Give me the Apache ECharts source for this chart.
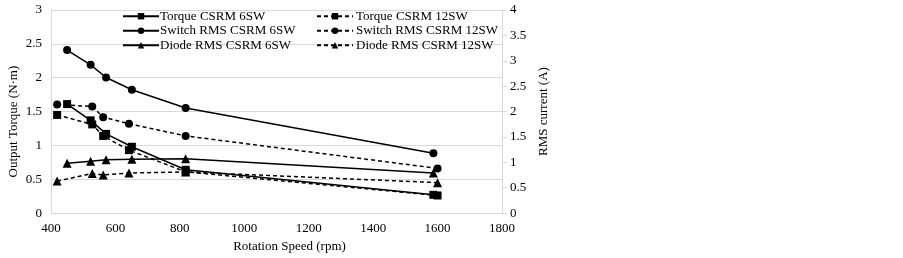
<!DOCTYPE html>
<html><head><meta charset="utf-8">
<script src="https://cdn.jsdelivr.net/npm/echarts@6/dist/echarts.min.js"></script>
<style>html,body{margin:0;padding:0;background:#fff}#c{width:903px;height:258px}</style>
</head><body><div id="c"></div>
<script>
var rpm6 = [450, 523, 571, 651, 818, 1587];
var rpm12 = [419, 528, 562, 642, 818, 1600];
var torque6 = [1.61, 1.37, 1.17, 0.98, 0.64, 0.27];
var torque12 = [1.45, 1.31, 1.14, 0.93, 0.61, 0.26];
var switch6 = [3.21, 2.92, 2.67, 2.43, 2.07, 1.18];
var switch12 = [2.14, 2.10, 1.89, 1.76, 1.52, 0.88];
var diode6 = [0.98, 1.02, 1.05, 1.06, 1.07, 0.79];
var diode12 = [0.63, 0.78, 0.75, 0.79, 0.81, 0.60];
var names6 = ['Torque CSRM 6SW', 'Switch RMS CSRM 6SW', 'Diode RMS CSRM 6SW'];
var names12 = ['Torque CSRM 12SW', 'Switch RMS CSRM 12SW', 'Diode RMS CSRM 12SW'];

function pairs(xs, ys){ return xs.map(function(x,i){ return [x, ys[i]]; }); }
var FONT = '"Liberation Serif", "DejaVu Serif", serif';
function mk(name, xs, ys, yIdx, dashed, sym, size){
  return {
    name: name, type: 'line', yAxisIndex: yIdx, data: pairs(xs, ys),
    symbol: sym, symbolSize: size, showSymbol: true,
    lineStyle: {color: '#000', width: 1.5, type: dashed ? [4,3] : 'solid'},
    itemStyle: {color: '#000'},
    animation: false
  };
}
var chart = echarts.init(document.getElementById('c'));
chart.setOption({
  backgroundColor: '#fff',
  animation: false,
  textStyle: {fontFamily: FONT, color: '#000'},
  grid: {left: 51, right: 401, top: 10, bottom: 41, containLabel: false},
  legend: [
    {data: names6, orient: 'vertical', left: 117, top: 7, itemWidth: 36, itemHeight: 8, itemGap: 0,
     padding: [2,5,2,5],
     textStyle: {fontFamily: FONT, fontSize: 13, color: '#000', padding: [0,0,0,-4], lineHeight: 14.5}},
    {data: names12, orient: 'vertical', left: 311, top: 7, itemWidth: 36, itemHeight: 8, itemGap: 0,
     padding: [2,5,2,5],
     textStyle: {fontFamily: FONT, fontSize: 13, color: '#000', padding: [0,0,0,-2], lineHeight: 14.5}}
  ],
  xAxis: {
    type: 'value', min: 400, max: 1800, interval: 200,
    name: 'Rotation Speed (rpm)', nameLocation: 'middle', nameGap: 25,
    nameTextStyle: {fontFamily: FONT, fontSize: 13, color: '#000', padding: [0,0,0,26]},
    axisLine: {show: true, lineStyle: {color: '#d9d9d9', width: 1}},
    axisTick: {show: false},
    axisLabel: {fontFamily: FONT, fontSize: 13, color: '#000', margin: 9,
      formatter: function(v){ return String(v); }},
    splitLine: {show: false}
  },
  yAxis: [
    {type: 'value', min: 0, max: 3, interval: 0.5, position: 'left',
     name: 'Output Torque (N·m)', nameLocation: 'middle', nameGap: 31, nameRotate: 90,
     nameTextStyle: {fontFamily: FONT, fontSize: 13, color: '#000', padding: [0,20,0,0]},
     axisLine: {show: true, lineStyle: {color: '#d9d9d9'}},
     axisTick: {show: false},
     axisLabel: {fontFamily: FONT, fontSize: 13, color: '#000', margin: 9},
     splitLine: {show: true, lineStyle: {color: '#d9d9d9', width: 1}}},
    {type: 'value', min: 0, max: 4, interval: 0.5, position: 'right',
     name: 'RMS current (A)', nameLocation: 'middle', nameGap: 35, nameRotate: 90,
     nameTextStyle: {fontFamily: FONT, fontSize: 13, color: '#000'},
     axisLine: {show: true, lineStyle: {color: '#d9d9d9'}},
     axisTick: {show: true, inside: false, length: 5, lineStyle: {color: '#d9d9d9'}},
     axisLabel: {fontFamily: FONT, fontSize: 13, color: '#000', margin: 8},
     splitLine: {show: false}}
  ],
  series: [
    mk(names6[0], rpm6, torque6, 0, false, 'rect', 8),
    mk(names6[1], rpm6, switch6, 1, false, 'circle', 8),
    mk(names6[2], rpm6, diode6, 1, false, 'triangle', 9),
    mk(names12[0], rpm12, torque12, 0, true, 'rect', 8),
    mk(names12[1], rpm12, switch12, 1, true, 'circle', 8),
    mk(names12[2], rpm12, diode12, 1, true, 'triangle', 9)
  ]
});
</script></body></html>
